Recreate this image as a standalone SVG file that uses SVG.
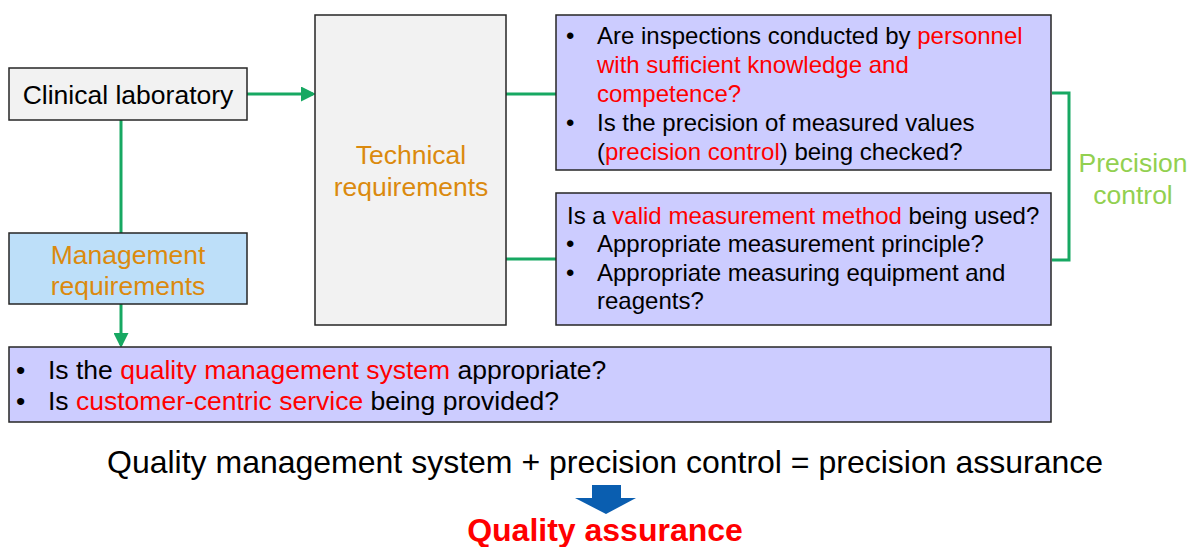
<svg xmlns="http://www.w3.org/2000/svg" width="1191" height="547" viewBox="0 0 1191 547">
<style>
text{font-family:"Liberation Sans",Arial,sans-serif;}
.box{stroke:#262626;stroke-width:1.5;}
.gray{fill:#f2f2f2;}
.lav{fill:#ccccff;}
.blue{fill:#bddff9;}
.t{font-size:24px;fill:#000;}
.w{font-size:26.5px;fill:#000;}
.r{fill:#ff0000;}
.o{font-size:26.5px;fill:#db8a0e;}
.conn{stroke:#17a862;stroke-width:3;fill:none;}
</style>
<defs>
<marker id="ah" markerWidth="5" markerHeight="5" refX="4" refY="2.5" orient="auto" markerUnits="strokeWidth">
<path d="M0,0 L5,2.5 L0,5 Z" fill="#17a862"/>
</marker>
</defs>
<g id="connectors">
<line class="conn" x1="247" y1="94" x2="313" y2="94" marker-end="url(#ah)"/>
<line class="conn" x1="121" y1="120" x2="121" y2="233"/>
<line class="conn" x1="121" y1="304" x2="121" y2="345" marker-end="url(#ah)"/>
<line class="conn" x1="506" y1="94" x2="556" y2="94"/>
<line class="conn" x1="506" y1="259" x2="556" y2="259"/>
<polyline class="conn" points="1052,93 1069,93 1069,260 1052,260"/>
</g>
<g id="clinical">
<rect class="box gray" x="9" y="68" width="238" height="52"/>
<text x="128" y="104" text-anchor="middle" style="font-size:26.5px;fill:#000">Clinical laboratory</text>
</g>
<g id="management">
<rect class="box blue" x="9" y="233" width="238" height="71"/>
<text class="o" x="128" y="264" text-anchor="middle">Management</text>
<text class="o" x="128" y="295" text-anchor="middle">requirements</text>
</g>
<g id="technical">
<rect class="box gray" x="315" y="15" width="191" height="310"/>
<text class="o" x="411" y="164" text-anchor="middle">Technical</text>
<text class="o" x="411" y="196" text-anchor="middle">requirements</text>
</g>
<g id="personnel">
<rect class="box lav" x="556" y="15" width="495" height="155"/>
<text class="t" x="566" y="44">•</text>
<text class="t" x="597" y="44">Are inspections conducted by <tspan class="r">personnel</tspan></text>
<text class="t r" x="597" y="73">with sufficient knowledge and</text>
<text class="t r" x="597" y="102">competence?</text>
<text class="t" x="566" y="131">•</text>
<text class="t" x="597" y="131">Is the precision of measured values</text>
<text class="t" x="597" y="160">(<tspan class="r">precision control</tspan>) being checked?</text>
</g>
<g id="method">
<rect class="box lav" x="556" y="193" width="495" height="132"/>
<text class="t" x="567" y="224">Is a <tspan class="r">valid measurement method</tspan> being used?</text>
<text class="t" x="566" y="252">•</text>
<text class="t" x="597" y="252">Appropriate measurement principle?</text>
<text class="t" x="566" y="281">•</text>
<text class="t" x="597" y="281">Appropriate measuring equipment and</text>
<text class="t" x="597" y="309">reagents?</text>
</g>
<g id="precision">
<text x="1133" y="172" text-anchor="middle" style="font-size:26.5px;fill:#92d050">Precision</text>
<text x="1133" y="204" text-anchor="middle" style="font-size:26.5px;fill:#92d050">control</text>
</g>
<g id="qms">
<rect class="box lav" x="9" y="347" width="1042" height="75"/>
<text class="w" x="16" y="379">•</text>
<text class="w" x="48" y="379">Is the <tspan class="r">quality management system</tspan> appropriate?</text>
<text class="w" x="16" y="410">•</text>
<text class="w" x="48" y="410">Is <tspan class="r">customer-centric service</tspan> being provided?</text>
</g>
<g id="summary">
<text x="605" y="473" text-anchor="middle" style="font-size:32px;fill:#000">Quality management system + precision control = precision assurance</text>
<polygon points="592,485 621,485 621,498 636,498 606,514 575,498 592,498" fill="#0a5eb0"/>
<text x="605" y="541" text-anchor="middle" style="font-size:32px;font-weight:bold;fill:#ff0000">Quality assurance</text>
</g>
</svg>
